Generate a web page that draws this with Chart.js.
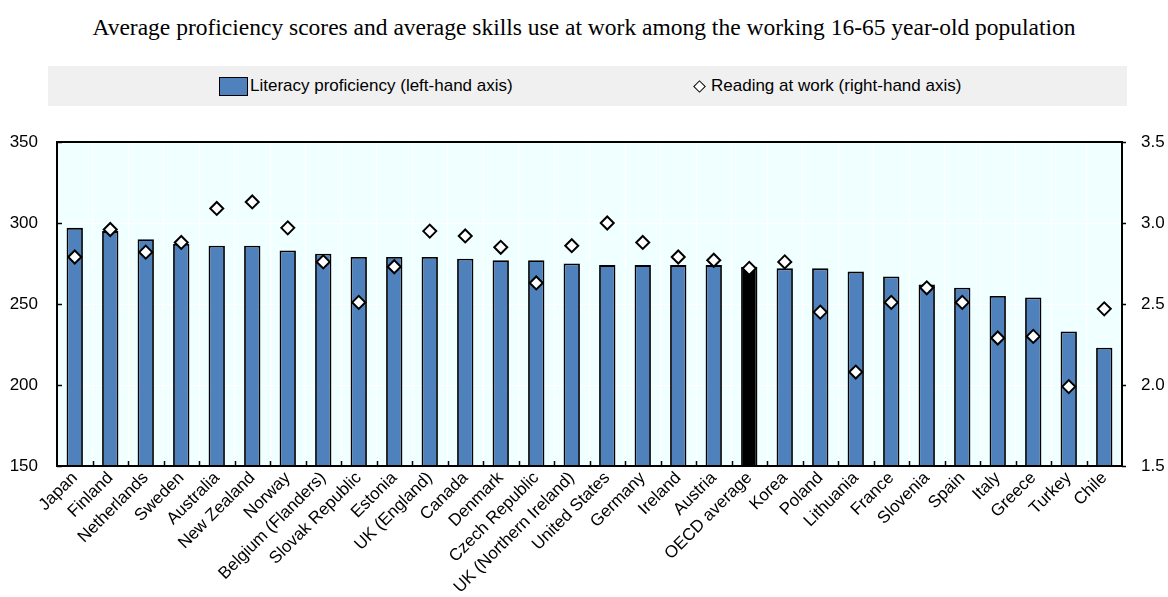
<!DOCTYPE html>
<html>
<head>
<meta charset="utf-8">
<script src="https://cdn.jsdelivr.net/npm/chart.js@4"></script>
<style>
  body { margin: 0; background: #fff; }
  #wrap { position: relative; width: 1168px; height: 597px; }
  #title { position: absolute; top: 12px; left: 0; width: 1168px; text-align: center; white-space: nowrap;
           font-family: "Liberation Serif", "Times New Roman", serif; font-size: 23.5px; line-height: 30px; color: #000; }
  #legend { position: absolute; left: 48px; top: 66px; width: 1079px; height: 40px; background: #f0f0f0;
            font-family: "Liberation Sans", Arial, sans-serif; font-size: 17px; color: #000; }
  .item { position: absolute; top: 10px; display: flex; align-items: center; white-space: nowrap; }
  .box { width: 27px; height: 17px; background: #4f81bd; border: 1.5px solid #000; margin-right: 2px; }
  .dia { width: 7px; height: 7px; background: #fff; border: 1.5px solid #000; transform: rotate(45deg); margin-right: 7px; }
  canvas { position: absolute; left: 0; top: 0; }
</style>
</head>
<body>
<div id="wrap">
  <div id="title">Average proficiency scores and average skills use at work among the working 16-65 year-old population</div>
  <div id="legend">
    <div class="item" style="left:171px"><span class="box"></span>Literacy proficiency (left-hand axis)</div>
    <div class="item" style="left:647px"><span class="dia"></span>Reading at work (right-hand axis)</div>
  </div>
  <canvas id="chart" width="1168" height="597"></canvas>
</div>
<script>
const countries = ['Japan', 'Finland', 'Netherlands', 'Sweden', 'Australia', 'New Zealand', 'Norway',
    'Belgium (Flanders)', 'Slovak Republic', 'Estonia', 'UK (England)', 'Canada', 'Denmark',
    'Czech Republic', 'UK (Northern Ireland)', 'United States', 'Germany', 'Ireland', 'Austria',
    'OECD average', 'Korea', 'Poland', 'Lithuania', 'France', 'Slovenia', 'Spain', 'Italy',
    'Greece', 'Turkey', 'Chile'];

// literacy proficiency, left-hand axis
const literacy = [297, 295, 290, 287, 286, 286, 283, 281, 279, 279, 279, 278, 277,
    277, 275, 274, 274, 274, 274, 273, 272, 272, 270, 267, 262, 260, 255,
    254, 233, 223];

// reading at work, right-hand axis
const reading = [2.79, 2.96, 2.82, 2.88, 3.09, 3.13, 2.97, 2.76, 2.51, 2.73, 2.95, 2.92, 2.85,
    2.63, 2.86, 3.00, 2.88, 2.79, 2.77, 2.72, 2.76, 2.45, 2.08, 2.51, 2.60, 2.51, 2.29,
    2.30, 1.99, 2.47];

const leftTicks = [150, 200, 250, 300, 350];
const rightTicks = [1.5, 2.0, 2.5, 3.0, 3.5];

const barBlue = '#4f81bd';
const barColors = countries.map(c => c === 'OECD average' ? '#000000' : barBlue);

Chart.defaults.font.family = '"Liberation Sans", Arial, sans-serif';
Chart.defaults.color = '#000';

const frame = {
    id: 'frame',
    beforeDraw(chart) {
        const { ctx, chartArea: a } = chart;
        ctx.save();
        ctx.fillStyle = '#f0ffff';
        ctx.fillRect(a.left, a.top, a.right - a.left, a.bottom - a.top);
        ctx.restore();
    },
    afterDraw(chart) {
        const { ctx, chartArea: a, scales } = chart;
        ctx.save();
        ctx.strokeStyle = '#000';
        ctx.lineWidth = 2;
        ctx.strokeRect(a.left, a.top, a.right - a.left, a.bottom - a.top);
        ctx.lineWidth = 1.5;
        ctx.beginPath();
        // category separators at the bottom, pointing in
        const x = scales.x;
        const step = (a.right - a.left) / countries.length;
        for (let i = 1; i < countries.length; i++) {
            const px = Math.round(x.getPixelForValue(i) - step / 2) + 0.5;
            ctx.moveTo(px, a.bottom);
            ctx.lineTo(px, a.bottom - 5);
        }
        leftTicks.forEach(v => {
            const py = Math.round(scales.y.getPixelForValue(v)) + 0.5;
            ctx.moveTo(a.left, py);
            ctx.lineTo(a.left + 5, py);
        });
        rightTicks.forEach(v => {
            const py = Math.round(scales.y1.getPixelForValue(v)) + 0.5;
            ctx.moveTo(a.right, py);
            ctx.lineTo(a.right + 4, py);
        });
        ctx.stroke();
        ctx.restore();
    }
};

new Chart(document.getElementById('chart'), {
    data: {
        labels: countries,
        datasets: [
            {
                type: 'line',
                label: 'Reading at work (right-hand axis)',
                data: reading,
                yAxisID: 'y1',
                showLine: false,
                pointStyle: 'rectRot',
                pointRadius: 6.5,
                pointBackgroundColor: '#fff',
                pointBorderColor: '#000',
                pointBorderWidth: 2,
                order: 0
            },
            {
                type: 'bar',
                label: 'Literacy proficiency (left-hand axis)',
                data: literacy,
                yAxisID: 'y',
                backgroundColor: barColors,
                borderColor: '#000',
                borderWidth: 1.8,
                borderSkipped: false,
                categoryPercentage: 1,
                barPercentage: 0.46,
                order: 1
            }
        ]
    },
    options: {
        responsive: false,
        animation: false,
        layout: { padding: { top: 142, left: 0, right: 0, bottom: 0 } },
        plugins: { legend: { display: false }, title: { display: false }, tooltip: { enabled: false } },
        scales: {
            x: {
                offset: true,
                grid: { color: '#ffffff', lineWidth: 1, offset: true, drawTicks: false },
                border: { display: false },
                ticks: { maxRotation: 45, minRotation: 45, autoSkip: false, padding: 2,
                         font: { size: 17 } },
                afterFit(scale) { scale.height = 131; }
            },
            y: {
                position: 'left',
                min: 150, max: 350,
                afterBuildTicks(scale) { scale.ticks = leftTicks.map(v => ({ value: v })); },
                grid: { color: '#ffffff', lineWidth: 1, drawTicks: false },
                border: { display: false },
                ticks: { padding: 19, font: { size: 17 } },
                afterFit(scale) { scale.width = 57; }
            },
            y1: {
                position: 'right',
                min: 1.5, max: 3.5,
                afterBuildTicks(scale) { scale.ticks = rightTicks.map(v => ({ value: v })); },
                grid: { display: false, drawTicks: false },
                border: { display: false },
                ticks: { padding: 19, font: { size: 17 }, callback: v => v.toFixed(1) },
                afterFit(scale) { scale.width = 46; }
            }
        }
    },
    plugins: [frame]
});
</script>
</body>
</html>
